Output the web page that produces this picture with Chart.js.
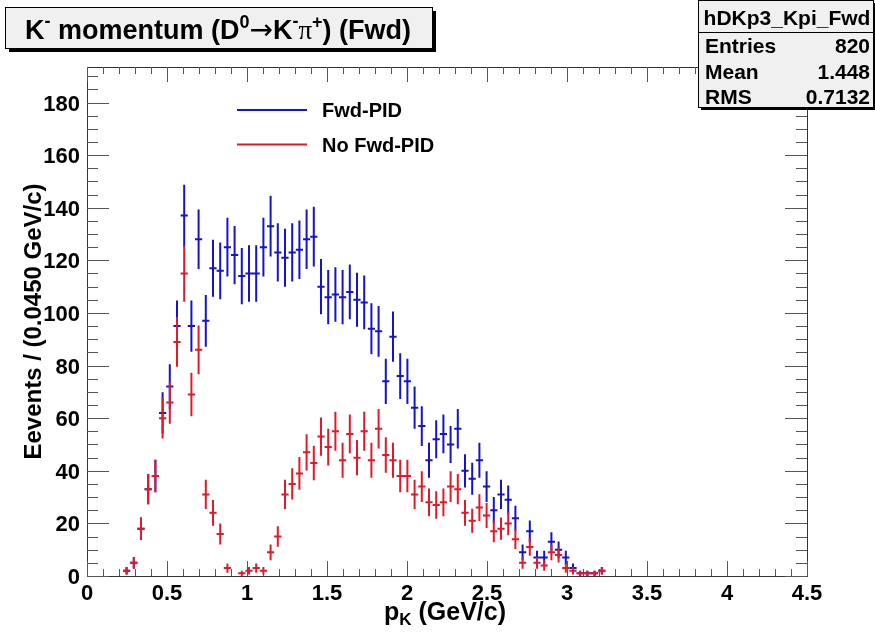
<!DOCTYPE html>
<html><head><meta charset="utf-8">
<script src="https://cdn.jsdelivr.net/npm/chart.js@4.4.1/dist/chart.umd.min.js"></script>
<style>html,body{margin:0;padding:0;background:#fff}canvas{display:block}</style>
</head><body>
<canvas id="c" width="875" height="635"></canvas>
<script>
// ---- data ----
const binCenters = [0.2475,0.2925,0.3375,0.3825,0.4275,0.4725,0.5175,0.5625,0.6075,0.6525,
  0.6975,0.7425,0.7875,0.8325,0.8775,0.9225,0.9675,1.0125,1.0575,1.1025,
  1.1475,1.1925,1.2375,1.2825,1.3275,1.3725,1.4175,1.4625,1.5075,1.5525,
  1.5975,1.6425,1.6875,1.7325,1.7775,1.8225,1.8675,1.9125,1.9575,2.0025,
  2.0475,2.0925,2.1375,2.1825,2.2275,2.2725,2.3175,2.3625,2.4075,2.4525,
  2.4975,2.5425,2.5875,2.6325,2.6775,2.7225,2.7675,2.8125,2.8575,2.9025,
  2.9475,2.9925,3.0375,3.0825,3.1275,3.1725,3.2175];
const fwdPID = [2,5,18,33,38,62,72,95,137,95,
  128,97,117,116,125,122,114,115,115,125,
  133,123,121,123,124,128,129,110,106,107,
  106,108,105,104,94,93,74,91,76,74,
  64,57,44,52,54,50,56,40,37,44,
  34,25,31,29,22,9,17,7,7,13,
  10,7,3,1,1,1,2];
const noFwdPID = [2,5,18,33,38,60,66,89,115,69,
  86,31,24,16,3,0,1,2,3,2,
  9,15,31,35,39,47,43,53,49,55,
  44,54,45,55,44,56,46,44,38,38,
  31,34,28,27,28,34,33,24,21,26,
  23,17,18,20,14,5,11,5,4,9,
  8,3,2,1,1,1,2];
const binHalfWidth = 0.0225;
const xTickLabels = ['0','0.5','1','1.5','2','2.5','3','3.5','4','4.5'];
const yTickLabels = ['0','20','40','60','80','100','120','140','160','180'];
const seriesNames = ['Fwd-PID','No Fwd-PID'];
const statsName = 'hDKp3_Kpi_Fwd';
const statsLabels = ['Entries','Mean','RMS'];
const statsValues = ['820','1.448','0.7132'];

// ---- style ----
const BLUE = 'rgb(20,20,205)', RED = 'rgb(224,26,40)';
const SANS = '"Liberation Sans", Arial, Helvetica, sans-serif';
const bold = s => 'bold ' + s + 'px ' + SANS;

function pts(vals){ return binCenters.map((x,i)=>({x:x, y: vals[i] > 0 ? vals[i] : null})); }

function runs(ctx, list, x, y, align){
  let total = 0;
  list.forEach(r=>{ ctx.font = r.f; r.w = ctx.measureText(r.t).width; total += r.w; });
  let cx = align === 'center' ? x - total/2 : x;
  list.forEach(r=>{ ctx.font = r.f; ctx.textAlign='left'; ctx.fillText(r.t, cx, y + (r.dy||0)); cx += r.w; });
}

const rootStyle = {
  id: 'rootStyle',
  beforeDatasetsDraw(chart){
    const ctx = chart.ctx, a = chart.chartArea, xs = chart.scales.x, ys = chart.scales.y;
    ctx.save();
    ctx.strokeStyle = '#333'; ctx.lineWidth = 1;
    ctx.strokeRect(Math.round(a.left)+0.5, Math.round(a.top)+0.5, Math.round(a.right-a.left), Math.round(a.bottom-a.top));
    ctx.strokeStyle = '#555';
    ctx.beginPath();
    // x ticks
    const xv = xTickLabels.map(Number);
    for (let i=0;i<xv.length;i++){
      const p = Math.round(xs.getPixelForValue(xv[i]))+0.5;
      ctx.moveTo(p, a.bottom); ctx.lineTo(p, a.bottom-15);
      ctx.moveTo(p, a.top); ctx.lineTo(p, a.top+15);
      if (i < xv.length-1){
        const st = (xv[i+1]-xv[i])/5;
        for (let k=1;k<5;k++){
          const q = Math.round(xs.getPixelForValue(xv[i]+k*st))+0.5;
          ctx.moveTo(q, a.bottom); ctx.lineTo(q, a.bottom-7);
          ctx.moveTo(q, a.top); ctx.lineTo(q, a.top+7);
        }
      }
    }
    // y ticks
    const yv = yTickLabels.map(Number);
    const ystep = yv[1]-yv[0];
    for (let v=0; v<=ys.max; v+= ystep/4){
      const p = Math.round(ys.getPixelForValue(v))+0.5;
      const major = Math.abs(v/ystep - Math.round(v/ystep)) < 1e-6;
      const L = major ? 22 : 11;
      ctx.moveTo(a.left, p); ctx.lineTo(a.left+L, p);
      ctx.moveTo(a.right, p); ctx.lineTo(a.right-L, p);
    }
    ctx.stroke();
    // tick labels
    ctx.fillStyle = '#000';
    ctx.font = bold(22);
    ctx.textAlign = 'center'; ctx.textBaseline = 'alphabetic';
    xTickLabels.forEach(t=>{ ctx.fillText(t, xs.getPixelForValue(Number(t)), 600); });
    ctx.textAlign = 'right';
    yTickLabels.forEach(t=>{ ctx.fillText(t, a.left-7, ys.getPixelForValue(Number(t))+8); });
    // axis titles
    runs(ctx, [{t:'p', f:bold(25)}, {t:'K', f:bold(17), dy:5}, {t:' (GeV/c)', f:bold(25)}], (a.left+a.right)/2 - 2, 620, 'center');
    ctx.save();
    ctx.translate(41, (a.top+a.bottom)/2);
    ctx.rotate(-Math.PI/2);
    ctx.textAlign = 'center';
    ctx.font = bold(24);
    ctx.fillText('Eevents / (0.0450 GeV/c)', 0, 0);
    ctx.restore();
    ctx.restore();
  },
  afterDatasetsDraw(chart){
    const ctx = chart.ctx, a = chart.chartArea, xs = chart.scales.x, ys = chart.scales.y;
    ctx.save();
    ctx.beginPath(); ctx.rect(a.left, a.top, a.right-a.left, a.bottom-a.top); ctx.clip();
    chart.data.datasets.forEach((ds, di)=>{
      const meta = chart.getDatasetMeta(di);
      ctx.strokeStyle = ds.borderColor; ctx.lineWidth = 2;
      ctx.beginPath();
      meta.data.forEach((el, j)=>{
        const p = ds.data[j];
        if (p.y == null || !isFinite(el.y)) return;
        const e = Math.sqrt(p.y);
        const yT = ys.getPixelForValue(p.y + e), yB = ys.getPixelForValue(Math.max(0, p.y - e));
        const xL = xs.getPixelForValue(p.x - binHalfWidth), xR = xs.getPixelForValue(p.x + binHalfWidth);
        ctx.moveTo(el.x, yT); ctx.lineTo(el.x, yB);
        ctx.moveTo(xL, el.y); ctx.lineTo(xR, el.y);
      });
      ctx.stroke();
    });
    ctx.restore();
  },
  afterDraw(chart){
    const ctx = chart.ctx;
    ctx.save();
    // legend
    const ly = [110, 144.5];
    chart.data.datasets.forEach((ds,i)=>{
      ctx.strokeStyle = ds.borderColor; ctx.lineWidth = 2;
      ctx.beginPath(); ctx.moveTo(237, ly[i]); ctx.lineTo(307, ly[i]); ctx.stroke();
      ctx.fillStyle = '#000'; ctx.font = bold(20); ctx.textAlign = 'left'; ctx.textBaseline = 'alphabetic';
      ctx.fillText(seriesNames[i], 322, ly[i]+7);
    });
    // title box
    ctx.fillStyle = '#000';
    ctx.fillRect(9, 11, 427, 41);
    ctx.fillStyle = '#f0f0f0';
    ctx.fillRect(5, 7, 427, 41);
    ctx.strokeStyle = '#000'; ctx.lineWidth = 1;
    ctx.strokeRect(5.5, 7.5, 427, 41);
    ctx.fillStyle = '#000'; ctx.textBaseline = 'alphabetic';
    const B = bold(27), S = bold(18);
    runs(ctx, [
      {t:'K', f:B}, {t:'-', f:S, dy:-12}, {t:' momentum (D', f:B}, {t:'0', f:S, dy:-11},
      {t:'\u2192', f:'28px "DejaVu Sans", sans-serif'}, {t:'K', f:B}, {t:'-', f:S, dy:-12},
      {t:'\u03C0', f:'27px "Liberation Serif", serif'}, {t:'+', f:S, dy:-11}, {t:') (Fwd)', f:B}
    ], 218, 39, 'center');
    // stats box
    ctx.fillStyle = '#000';
    ctx.fillRect(701, 3, 176, 107);
    ctx.fillStyle = '#f0f0f0';
    ctx.fillRect(698, 0, 176, 107);
    ctx.strokeStyle = '#000';
    ctx.strokeRect(698.5, 0.5, 175, 107);
    ctx.beginPath(); ctx.moveTo(698, 32.5); ctx.lineTo(874, 32.5); ctx.stroke();
    ctx.fillStyle = '#000';
    ctx.font = bold(21);
    ctx.textAlign = 'center';
    ctx.fillText(statsName, 787, 25);
    const rowY = [53, 78.5, 104];
    statsLabels.forEach((l,i)=>{
      ctx.textAlign = 'left'; ctx.fillText(l, 705, rowY[i]);
      ctx.textAlign = 'right'; ctx.fillText(statsValues[i], 870, rowY[i]);
    });
    ctx.restore();
  }
};

new Chart(document.getElementById('c'), {
  type: 'scatter',
  data: {
    datasets: [
      {label: seriesNames[0], data: pts(fwdPID), borderColor: BLUE, backgroundColor: BLUE, pointRadius: 0, showLine: false},
      {label: seriesNames[1], data: pts(noFwdPID), borderColor: RED, backgroundColor: RED, pointRadius: 0, showLine: false}
    ]
  },
  options: {
    responsive: false, animation: false, devicePixelRatio: 1,
    layout: {padding: {left: 87, top: 67, right: 68, bottom: 59}},
    plugins: {legend: {display: false}, tooltip: {enabled: false}, title: {display: false}},
    scales: {
      x: {type: 'linear', min: 0, max: 4.5, display: false},
      y: {type: 'linear', min: 0, max: 193.5, display: false}
    }
  },
  plugins: [rootStyle]
});
</script>
</body></html>
